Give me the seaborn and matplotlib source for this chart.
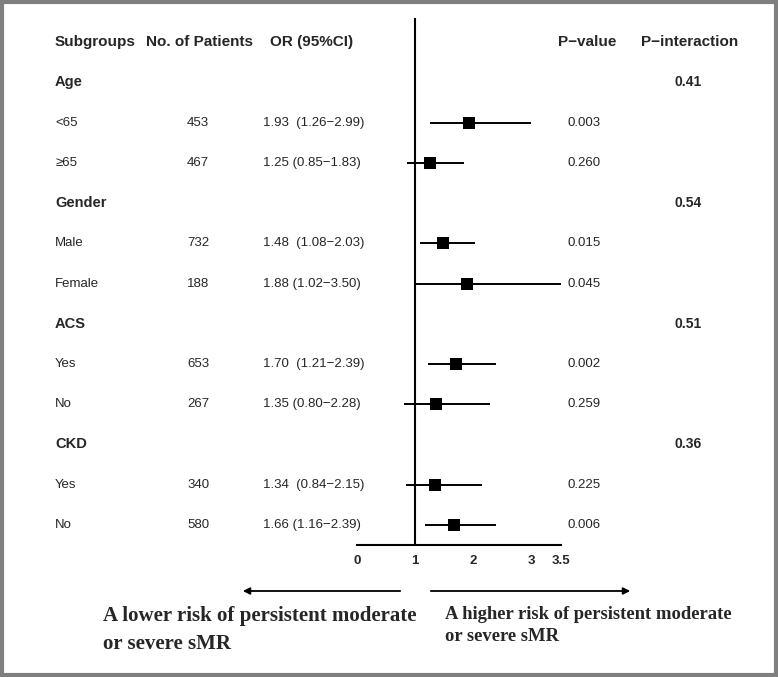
import matplotlib
matplotlib.use('Agg')
import matplotlib.pyplot as plt
import seaborn as sns
import pandas as pd
from matplotlib.patches import Rectangle, FancyArrowPatch

# ── data ─────────────────────────────────────────────────────
groups = ["Age", "Gender", "ACS", "CKD"]
group_rows = [1, 4, 7, 10]
p_interaction = ["0.41", "0.54", "0.51", "0.36"]

subgroups = ["<65", "≥65", "Male", "Female", "Yes", "No", "Yes", "No"]
sub_rows = [2, 3, 5, 6, 8, 9, 11, 12]
patients = [453, 467, 732, 188, 653, 267, 340, 580]
odds = [1.93, 1.25, 1.48, 1.88, 1.70, 1.35, 1.34, 1.66]
ci_low = [1.26, 0.85, 1.08, 1.02, 1.21, 0.80, 0.84, 1.16]
ci_high = [2.99, 1.83, 2.03, 3.50, 2.39, 2.28, 2.15, 2.39]
or_labels = ["1.93  (1.26\u22122.99)", "1.25 (0.85\u22121.83)",
             "1.48  (1.08\u22122.03)", "1.88 (1.02\u22123.50)",
             "1.70  (1.21\u22122.39)", "1.35 (0.80\u22122.28)",
             "1.34  (0.84\u22122.15)", "1.66 (1.16\u22122.39)"]
p_values = ["0.003", "0.260", "0.015", "0.045", "0.002", "0.259", "0.225", "0.006"]
x_ticks = [0, 1, 2, 3, 3.5]
x_tick_labels = ["0", "1", "2", "3", "3.5"]

df = pd.DataFrame({'row': sub_rows, 'odds': odds, 'lo': ci_low, 'hi': ci_high})

# ── figure ───────────────────────────────────────────────────
sns.set_style("white")
plt.rcParams['font.family'] = ['Liberation Sans', 'DejaVu Sans']

W, H = 778, 677
fig = plt.figure(figsize=(W / 100, H / 100), dpi=100)
ax = fig.add_axes([357 / W, (H - 545) / H, 204 / W, 527 / H])

ax.hlines(df['row'], df['lo'], df['hi'], color='black', lw=1.4)
sns.scatterplot(data=df, x='odds', y='row', marker='s', color='black',
                s=78, linewidth=0, ax=ax, legend=False, zorder=3)
ax.axvline(1, color='black', lw=1.5)

ax.set_xlim(0, 3.5)
ax.set_ylim(12.5, -0.6)
ax.set_xlabel('')
ax.set_ylabel('')
for s in ['left', 'right', 'top']:
    ax.spines[s].set_visible(False)
ax.spines['bottom'].set_linewidth(1.5)
ax.spines['bottom'].set_color('black')
ax.set_yticks([])
ax.set_xticks(x_ticks)
ax.set_xticklabels(x_tick_labels, fontsize=9.5, fontweight='bold')
ax.tick_params(axis='x', direction='out', length=4, width=1.5, pad=3)

# column positions in OR units (58.3 px per unit, 0 at px 357)
def px(p):
    return (p - 357) / 58.3

hdr = dict(fontsize=11, fontweight='bold', va='center', clip_on=False)
ax.text(px(55), 0, "Subgroups", ha='left', **hdr)
ax.text(px(146), 0, "No. of Patients", ha='left', **hdr)
ax.text(px(270), 0, "OR (95%CI)", ha='left', **hdr)
ax.text(px(558), 0, "P\u2212value", ha='left', **hdr)
ax.text(px(690), 0, "P\u2212interaction", ha='center', **hdr)

for g, r, pi in zip(groups, group_rows, p_interaction):
    ax.text(px(55), r, g, ha='left', va='center', fontsize=10.5,
            fontweight='bold', clip_on=False)
    ax.text(px(688), r, pi, ha='center', va='center', fontsize=10,
            fontweight='bold', clip_on=False)

for lab, r, n, o, p in zip(subgroups, sub_rows, patients, or_labels, p_values):
    ax.text(px(55), r, lab, ha='left', va='center', fontsize=9.5, clip_on=False)
    ax.text(px(198), r, str(n), ha='center', va='center', fontsize=9.5, clip_on=False)
    ax.text(px(263), r, o, ha='left', va='center', fontsize=9.5, clip_on=False)
    ax.text(px(568), r, p, ha='left', va='center', fontsize=9.5, clip_on=False)

# direction arrows and captions
ya = (H - 591) / H
arrow = dict(arrowstyle='-|>', color='black', lw=1.3, mutation_scale=10,
             transform=fig.transFigure)
fig.add_artist(FancyArrowPatch((403 / W, ya), (240 / W, ya), **arrow))
fig.add_artist(FancyArrowPatch((428 / W, ya), (633 / W, ya), **arrow))

fig.text(103 / W, (H - 606) / H, "A lower risk of persistent moderate\nor severe sMR",
         fontsize=15, fontweight='bold', family='Liberation Serif',
         va='top', ha='left', linespacing=1.55)
fig.text(445 / W, (H - 606) / H, "A higher risk of persistent moderate\nor severe sMR",
         fontsize=13.4, fontweight='bold', family='Liberation Serif',
         va='top', ha='left', linespacing=1.35)

# grey frame
fig.add_artist(Rectangle((2 / W, 2 / H), 1 - 4 / W, 1 - 4 / H, transform=fig.transFigure,
                         fill=False, edgecolor='#7f7f7f', lw=3))

fig.savefig('out.png', dpi=100)
plt.close(fig)
